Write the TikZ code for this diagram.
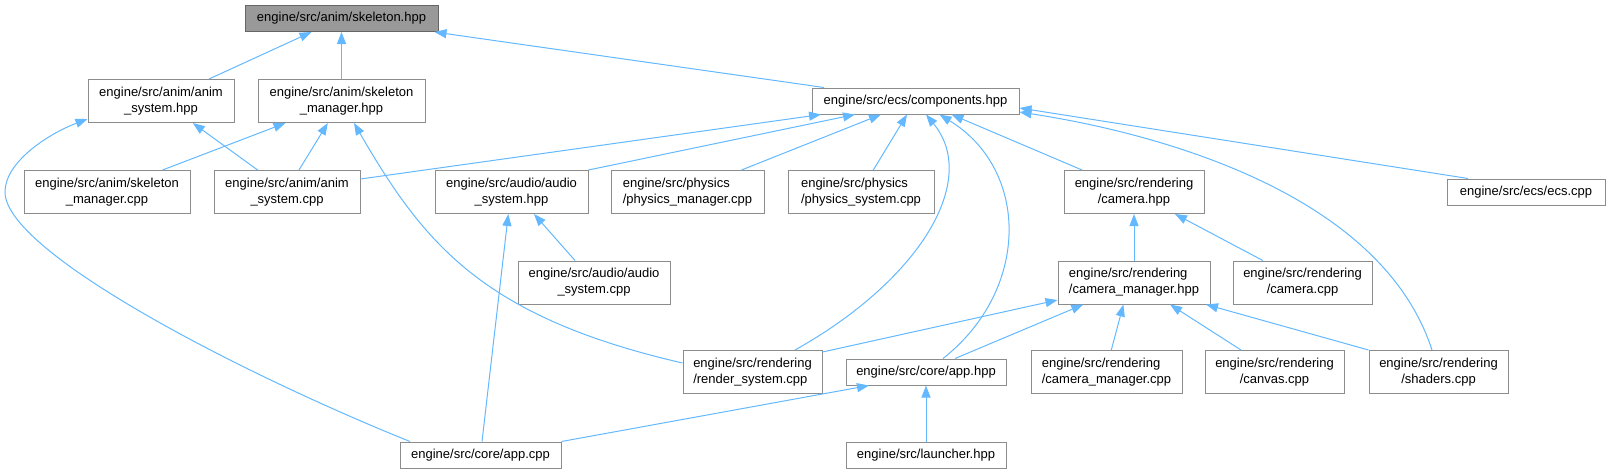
\documentclass[tikz,border=0pt]{standalone}
\usepackage{fontspec}
\setmainfont{Liberation Sans}
\usetikzlibrary{arrows.meta}
\definecolor{steel}{RGB}{99,184,255}
\definecolor{rootfill}{RGB}{153,153,153}
\definecolor{rootline}{RGB}{102,102,102}
\definecolor{frame}{RGB}{140,140,140}
\tikzset{
  >={Triangle[length=12pt,width=9pt]},
  file/.style={draw=frame,fill=white,line width=1pt,inner sep=0pt,align=center,
    font=\fontsize{13pt}{16pt}\selectfont,minimum width=#1,minimum height=26pt},
  twoline/.style={minimum height=43pt},
  leftlines/.style={align=left},
  root/.style={fill=rootfill,draw=rootline},
  dep/.style={->,draw=steel,line width=1pt},
}

\begin{document}
\begin{tikzpicture}[x=1pt,y=-1pt]
  \useasboundingbox (0,0) rectangle (1608,475);
  % headers on top
  \node[file=193pt,root] (skeleton) at (341.5,18.5) {engine/src/anim/skeleton.hpp};
  \node[file=146pt,twoline] (animsys) at (161,101) {engine/src/anim/anim\\\_system.hpp};
  \node[file=167pt,twoline] (skelmgr) at (341.5,101) {engine/src/anim/skeleton\\\_manager.hpp};
  \node[file=207pt] (components) at (915.5,101) {engine/src/ecs/components.hpp};
  % second row
  \node[file=166pt,twoline] (skelmgrcpp) at (107,192) {engine/src/anim/skeleton\\\_manager.cpp};
  \node[file=146pt,twoline] (animsyscpp) at (287,192) {engine/src/anim/anim\\\_system.cpp};
  \node[file=153pt,twoline] (audiosys) at (511.5,192) {engine/src/audio/audio\\\_system.hpp};
  \node[file=153pt,twoline,leftlines] (physmgr) at (687.5,192) {engine/src/physics\\/physics\_manager.cpp};
  \node[file=146pt,twoline,leftlines] (physsys) at (861,192) {engine/src/physics\\/physics\_system.cpp};
  \node[file=140pt,twoline] (camera) at (1134,192) {engine/src/rendering\\/camera.hpp};
  \node[file=158pt] (ecs) at (1526,192) {engine/src/ecs/ecs.cpp};
  % third row
  \node[file=152pt,twoline] (audiosyscpp) at (594,282.5) {engine/src/audio/audio\\\_system.cpp};
  \node[file=152pt,twoline,leftlines] (cammgr) at (1134,282.5) {engine/src/rendering\\/camera\_manager.hpp};
  \node[file=139pt,twoline] (cameracpp) at (1302.5,282.5) {engine/src/rendering\\/camera.cpp};
  % fourth row
  \node[file=139pt,twoline,leftlines] (rendersys) at (752.5,372) {engine/src/rendering\\/render\_system.cpp};
  \node[file=160pt] (apphpp) at (926,372) {engine/src/core/app.hpp};
  \node[file=151pt,twoline,leftlines] (cammgrcpp) at (1106.5,372) {engine/src/rendering\\/camera\_manager.cpp};
  \node[file=139pt,twoline] (canvas) at (1274.5,372) {engine/src/rendering\\/canvas.cpp};
  \node[file=139pt,twoline] (shaders) at (1438.5,372) {engine/src/rendering\\/shaders.cpp};
  % bottom row
  \node[file=161pt] (appcpp) at (480.5,455) {engine/src/core/app.cpp};
  \node[file=160pt] (launcher) at (926,455) {engine/src/launcher.hpp};

  % includes of skeleton.hpp
  \draw[dep] ([xshift=48pt]animsys.north) -- ([xshift=-30pt]skeleton.south);
  \draw[dep] (skelmgr.north) -- (skeleton.south);
  \draw[dep] ([xshift=-91.5pt]components.north) -- ([xshift=93pt]skeleton.south);
  % anim
  \draw[dep] ([xshift=55.5pt]skelmgrcpp.north) -- ([xshift=-56pt]skelmgr.south);
  \draw[dep] ([xshift=-29.4pt]animsyscpp.north) -- ([xshift=31.8pt]animsys.south);
  \draw[dep] ([xshift=12pt]animsyscpp.north) -- ([xshift=-13.7pt]skelmgr.south);
  \draw[dep] ([yshift=9pt]rendersys.west) .. controls (483,317) and (424,244) .. ([xshift=12.5pt]skelmgr.south);
  \draw[dep] ([xshift=-70.5pt]appcpp.north) .. controls (240,373) and (5,252) .. (5,192)
    .. controls (5,162) and (48,134) .. ([yshift=-18pt]animsys.west);
  % components.hpp
  \draw[dep] ([yshift=13pt]animsyscpp.east) -- ([xshift=-94.5pt]components.south);
  \draw[dep] (audiosys.north east) -- ([xshift=-60.5pt]components.south);
  \draw[dep] ([xshift=54pt]physmgr.north) -- ([xshift=-34.5pt]components.south);
  \draw[dep] ([xshift=12.3pt]physsys.north) -- ([xshift=-8.5pt]components.south);
  \draw[dep] ([xshift=42.5pt]rendersys.north) .. controls (920,280) and (980,180) .. ([xshift=10.5pt]components.south);
  \draw[dep] ([xshift=17pt]apphpp.north) .. controls (1030,290) and (1030,170) .. ([xshift=24pt]components.south);
  \draw[dep] ([xshift=-52pt]camera.north) -- ([xshift=36pt]components.south);
  \draw[dep] ([xshift=-6.5pt]shaders.north) .. controls (1380,190) and (1150,132) .. ([yshift=-11pt]components.east);
  \draw[dep] ([xshift=-58pt]ecs.north) -- ([yshift=-7pt]components.east);
  % audio
  \draw[dep] ([xshift=-19pt]audiosyscpp.north) -- ([xshift=22.5pt]audiosys.south);
  \draw[dep] ([xshift=1.5pt]appcpp.north) -- ([xshift=-3.2pt]audiosys.south);
  % rendering
  \draw[dep] (cammgr.north) -- (camera.south);
  \draw[dep] ([xshift=-39.7pt]cameracpp.north) -- ([xshift=41pt]camera.south);
  \draw[dep] ([yshift=-2pt]rendersys.north east) -- ([yshift=-17.5pt]cammgr.west);
  \draw[dep] ([xshift=29pt]apphpp.north) -- ([xshift=-50.7pt]cammgr.south);
  \draw[dep] ([xshift=4.8pt]cammgrcpp.north) -- ([xshift=-10.6pt]cammgr.south);
  \draw[dep] ([xshift=-33.5pt]canvas.north) -- ([xshift=36pt]cammgr.south);
  \draw[dep] (shaders.north west) -- ([xshift=72pt]cammgr.south);
  % core
  \draw[dep] (appcpp.north east) -- ([xshift=-57pt]apphpp.south);
  \draw[dep] (launcher.north) -- (apphpp.south);
\end{tikzpicture}
\end{document}
